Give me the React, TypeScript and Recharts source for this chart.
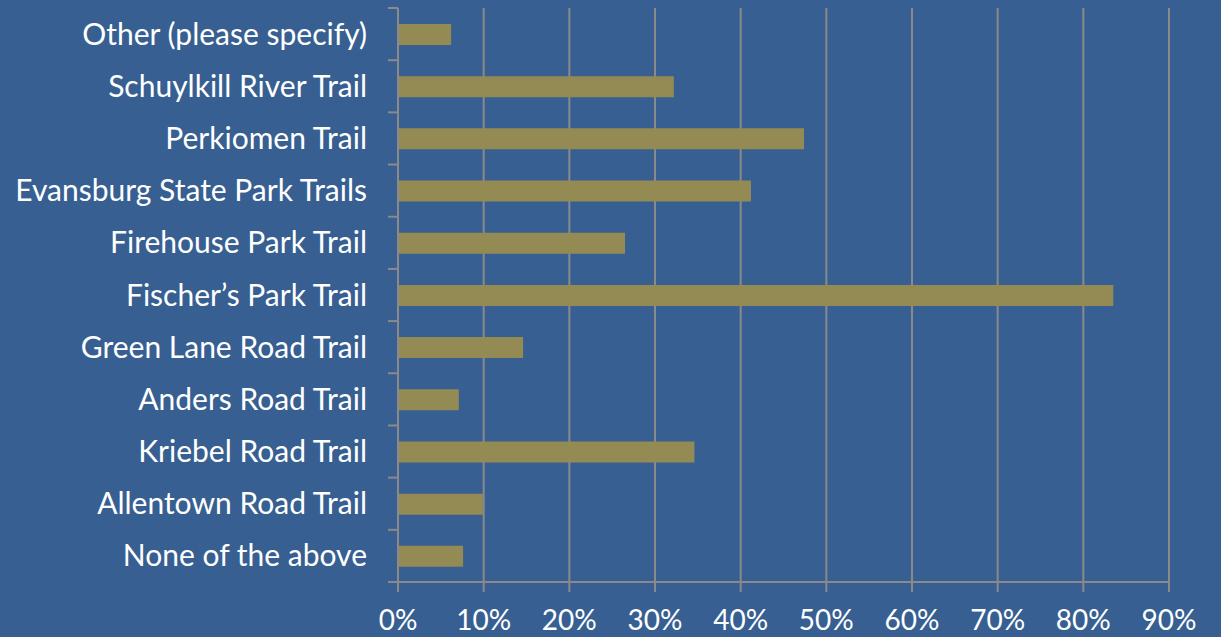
import { BarChart, Bar, XAxis, YAxis, CartesianGrid } from "recharts";

const trails = [
  "Other (please specify)",
  "Schuylkill River Trail",
  "Perkiomen Trail",
  "Evansburg State Park Trails",
  "Firehouse Park Trail",
  "Fischer’s Park Trail",
  "Green Lane Road Trail",
  "Anders Road Trail",
  "Kriebel Road Trail",
  "Allentown Road Trail",
  "None of the above",
];

const shares = [0.062, 0.322, 0.474, 0.412, 0.265, 0.835, 0.146, 0.071, 0.346, 0.099, 0.076];

const pctTicks = [0, 0.1, 0.2, 0.3, 0.4, 0.5, 0.6, 0.7, 0.8, 0.9];

const data = trails.map((name, i) => ({ name, value: shares[i] }));

const font = "Lato, 'Open Sans', sans-serif";
const gridColor = "#8a8a8a";
const fontSize = 30;

// category label plus small tick marks at band edges
const TrailTick = (props: any) => {
  const { x, y, payload, index, visibleTicksCount } = props;
  const half = payload.offset || 26.1;
  const axisX = x;
  return (
    <g>
      <line x1={axisX} x2={axisX - 10} y1={y - half} y2={y - half} stroke={gridColor} strokeWidth={2} />
      {index === visibleTicksCount - 1 && (
        <line x1={axisX} x2={axisX - 10} y1={y + half} y2={y + half} stroke={gridColor} strokeWidth={2} />
      )}
      <text x={axisX - 31} y={y} dy="0.35em" textAnchor="end" fill="#ffffff" fontSize={fontSize} fontFamily={font}>
        {payload.value}
      </text>
    </g>
  );
};

const App = () => {
  return (
    <div style={{ position: "fixed", left: 0, top: 0, width: 1221, height: 637, background: "#375F91", fontFamily: font }}>
      <BarChart
        width={1221}
        height={637}
        data={data}
        layout="vertical"
        margin={{ top: 8, right: 52, left: 0, bottom: 0 }}
        barSize={21}
      >
        <CartesianGrid horizontal={false} stroke={gridColor} strokeWidth={2} />
        <XAxis
          type="number"
          domain={[0, 0.9]}
          ticks={pctTicks}
          tickFormatter={(v: number) => `${Math.round(v * 100)}%`}
          stroke={gridColor}
          strokeWidth={2}
          tickSize={10}
          tickMargin={18}
          height={55}
          tick={{ fill: "#ffffff", fontSize: 28, fontFamily: font }}
        />
        <YAxis
          type="category"
          dataKey="name"
          width={398}
          tickLine={false}
          tickSize={0}
          tickMargin={0}
          stroke={gridColor}
          strokeWidth={2}
          tick={<TrailTick />}
          interval={0}
        />
        <Bar dataKey="value" fill="#948A54" isAnimationActive={false} />
      </BarChart>
    </div>
  );
};

export default App;
